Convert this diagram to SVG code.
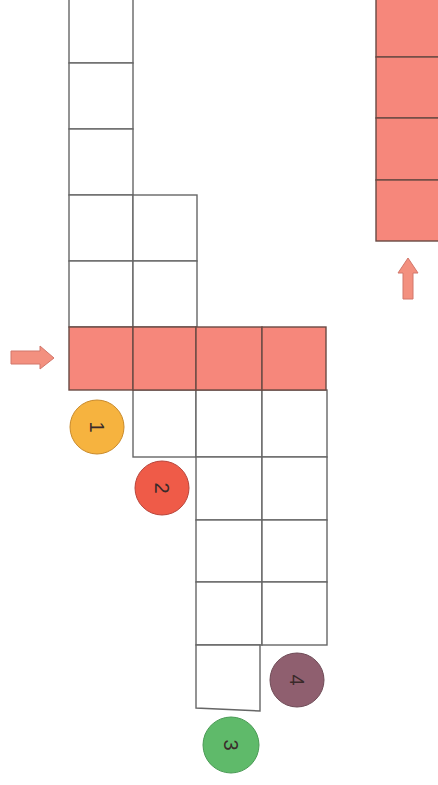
<svg xmlns="http://www.w3.org/2000/svg" width="438" height="785" viewBox="0 0 438 785">
<style>
.c{fill:#ffffff;stroke:#666;stroke-width:1.4}
.r{fill:#F6877B;stroke:#6a4a44;stroke-width:1.4}
.arr{fill:#F3907F;stroke:#d2766a;stroke-width:1}
.d{font-family:"Liberation Sans",Arial,sans-serif;font-size:20px;fill:#3a2a2a;text-anchor:middle;dominant-baseline:central}
</style>
<rect width="438" height="785" fill="#ffffff"/>
<g id="grid">
<rect class="c" x="69" y="-3" width="64" height="66"/>
<rect class="c" x="69" y="63" width="64" height="66"/>
<rect class="c" x="69" y="129" width="64" height="66"/>
<rect class="c" x="69" y="195" width="64" height="66"/>
<rect class="c" x="133" y="195" width="64" height="66"/>
<rect class="c" x="69" y="261" width="64" height="66"/>
<rect class="c" x="133" y="261" width="64" height="66"/>
<rect class="c" x="133" y="390" width="63" height="67"/>
<rect class="c" x="196" y="390" width="66" height="67"/>
<rect class="c" x="262" y="390" width="65" height="67"/>
<rect class="c" x="196" y="457" width="66" height="63"/>
<rect class="c" x="262" y="457" width="65" height="63"/>
<rect class="c" x="196" y="520" width="66" height="62"/>
<rect class="c" x="262" y="520" width="65" height="62"/>
<rect class="c" x="196" y="582" width="66" height="63"/>
<rect class="c" x="262" y="582" width="65" height="63"/>
<polygon class="c" points="196,645 260,645 260,711 196,708"/>
</g>
<g id="red-row">
<rect class="r" x="69" y="327" width="64" height="63"/>
<rect class="r" x="133" y="327" width="63" height="63"/>
<rect class="r" x="196" y="327" width="66" height="63"/>
<rect class="r" x="262" y="327" width="64" height="63"/>
</g>
<g id="red-column">
<rect class="r" x="376" y="-3" width="66" height="60"/>
<rect class="r" x="376" y="57" width="66" height="61"/>
<rect class="r" x="376" y="118" width="66" height="62"/>
<rect class="r" x="376" y="180" width="66" height="61"/>
</g>
<g id="arrow-right">
<polygon class="arr" points="11,351 40,351 40,346 54,358 40,369 40,364 11,364"/>
</g>
<g id="arrow-up">
<polygon class="arr" points="403,299 403,273 398,273 408,258 418,273 413,273 413,299"/>
</g>
<g id="badge-1">
<circle cx="97" cy="427" r="27" fill="#F6B33F" stroke="#c98a2a" stroke-width="1"/>
<text class="d" transform="translate(97,427) rotate(90)">1</text>
</g>
<g id="badge-2">
<circle cx="162" cy="488" r="27" fill="#EF5B48" stroke="#b8443a" stroke-width="1"/>
<text class="d" transform="translate(162,488) rotate(90)">2</text>
</g>
<g id="badge-3">
<circle cx="231" cy="745" r="28" fill="#5FBA6A" stroke="#4a9a55" stroke-width="1"/>
<text class="d" transform="translate(231,745) rotate(90)">3</text>
</g>
<g id="badge-4">
<circle cx="297" cy="680" r="27" fill="#8F5F6F" stroke="#6e4a56" stroke-width="1"/>
<text class="d" transform="translate(297,680) rotate(90)">4</text>
</g>
</svg>
